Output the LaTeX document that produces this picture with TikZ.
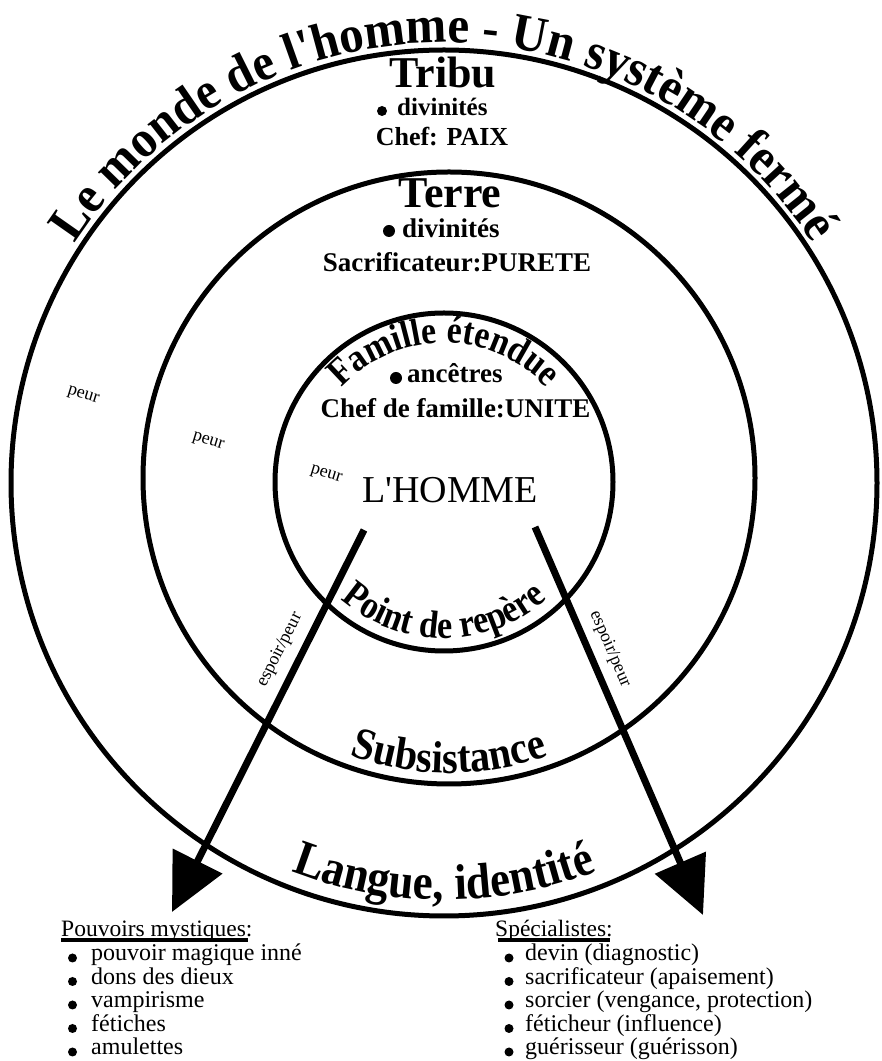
\documentclass[tikz,border=0pt]{standalone}
\usepackage{fontspec}
\setmainfont{Liberation Serif}
\newfontfamily\rawserif{Liberation Serif}[Ligatures=TeXOff]
\newfontfamily\titlef{Liberation Serif}[FakeStretch=0.94,UprightFont=* Bold]
\newfontfamily\condb{Liberation Serif}[FakeStretch=0.88,UprightFont=* Bold]
\newfontfamily\condc{Liberation Serif}[FakeStretch=0.9,UprightFont=* Bold]
\usetikzlibrary{arrows.meta,decorations.text}
\newcommand\fsz[1]{\fontsize{#1}{#1}\selectfont}
\begin{document}
\begin{tikzpicture}[x=1pt,y=1pt,
  ring/.style={line width=5pt},
  shaft/.style={line width=7pt,-{Triangle[length=57pt,width=54pt]}},
  bigtxt/.style={font=\fsz{44}\bfseries, anchor=base, inner sep=0pt},
  midtxt/.style={font=\fsz{27}\bfseries, anchor=base, inner sep=0pt},
  smalltxt/.style={font=\fsz{18}, inner sep=0pt},
  lsttxt/.style={font=\fsz{24}, anchor=base west, inner sep=0pt},
  hdtxt/.style={font=\fsz{23.5}, anchor=base west, inner sep=0pt},
  uline/.style={line width=3.5pt},
  arctxt/.style={decorate,decoration={text along path,text align=center,text={#1}}}]
\useasboundingbox (0,0) rectangle (882,1061);
\coordinate (C0) at (444,578);
\coordinate (C1) at (449,583);
\coordinate (C2) at (444,579);
\draw[ring] (C0) circle[radius=433pt];
\draw[ring] (C1) circle[radius=306pt];
\draw[ring] (C2) circle[radius=169pt];

% curved texts
\path[arctxt={|\fsz{52}\titlef|Le monde de l'homme - Un système fermé}]
  ([shift={(158:440pt)}]C0) arc[start angle=158,end angle=22,radius=440pt];
\path[arctxt={|\fsz{38.5}\condb|Famille étendue}]
  ([shift={(142:139pt)}]C2) arc[start angle=142,end angle=38,radius=139pt];
\path[arctxt={|\fsz{39}\condb|Point de repère}]
  ([shift={(-142:156pt)}]C2) arc[start angle=-142,end angle=-38,radius=156pt];
\path[arctxt={|\fsz{45}\condc|Subsistance}]
  ([shift={(-120:295pt)}]C1) arc[start angle=-120,end angle=-60,radius=295pt];
\path[arctxt={|\fsz{50}\condc|Langue, identité}]
  ([shift={(-125:417pt)}]C0) arc[start angle=-125,end angle=-55,radius=417pt];

% Tribu
\node[bigtxt] (tribu) at (443,973) {Tribu};
\fill (382,950) circle[radius=5pt];
\node[midtxt,font=\fsz{25}\bfseries,anchor=base west] (div1) at (397,945) {divinités};
\node[midtxt,font=\fsz{26}\bfseries] (paix) at (442,915) {Chef: PAIX};
% Terre
\node[bigtxt] (terre) at (450,853) {Terre};
\fill (389,830) circle[radius=6pt];
\node[midtxt,anchor=base west] (div2) at (402,823) {divinités};
\node[midtxt] (sacr) at (457,789) {Sacrificateur:PURETE};
% Famille
\fill (396,683) circle[radius=6pt];
\node[midtxt,anchor=base west] (anc) at (407,678) {ancêtres};
\node[midtxt] (chef) at (455.5,643) {Chef de famille:UNITE};
\node[font=\fsz{38}\rawserif,anchor=base,inner sep=0pt] (homme) at (450,558) {L'HOMME};

% peur
\node[smalltxt,rotate=-17] (p1) at (83,665) {peur};
\node[smalltxt,rotate=-17] (p2) at (208,619) {peur};
\node[smalltxt,rotate=-17] (p3) at (326,586) {peur};

% arrows
\coordinate (ls) at (364,531);
\coordinate (lt) at (172,149);
\coordinate (rs) at (535,534);
\coordinate (rt) at (703,146);
\draw[shaft] (ls) -- (lt);
\draw[shaft] (rs) -- (rt);
\node[smalltxt,rotate=63.3] (ep1) at (280,411) {espoir/peur};
\node[smalltxt,rotate=-66.6] (ep2) at (610,412) {espoir/peur};

% left list
\node[hdtxt] (pm) at (61,124) {Pouvoirs mystiques:};
\draw[uline] ([yshift=-3pt]pm.base west) -- ([xshift=-5pt,yshift=-3pt]pm.base east);
\node[lsttxt] (l1) at (91,100) {pouvoir magique inné};
\node[lsttxt] (l2) at (91,76.5) {dons des dieux};
\node[lsttxt] (l3) at (91,53) {vampirisme};
\node[lsttxt] (l4) at (91,29.5) {fétiches};
\node[lsttxt] (l5) at (91,6) {amulettes};
\foreach \yy in {100,76.5,53,29.5,6} \fill (72.5,\yy+3) circle[radius=4.5pt];

% right list
\node[hdtxt] (sp) at (495,124) {Spécialistes:};
\draw[uline] ([xshift=3pt,yshift=-3pt]sp.base west) -- ([xshift=-3pt,yshift=-3pt]sp.base east);
\node[lsttxt] (r1) at (525,100) {devin (diagnostic)};
\node[lsttxt] (r2) at (525,76.5) {sacrificateur (apaisement)};
\node[lsttxt] (r3) at (525,53) {sorcier (vengance, protection)};
\node[lsttxt] (r4) at (525,29.5) {féticheur (influence)};
\node[lsttxt] (r5) at (525,6) {guérisseur (guérisson)};
\foreach \yy in {100,76.5,53,29.5,6} \fill (509,\yy+3) circle[radius=4.5pt];
\end{tikzpicture}
\end{document}
